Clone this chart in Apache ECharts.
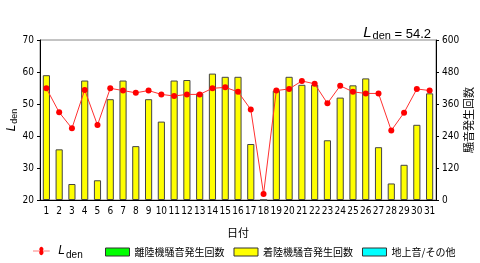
<!DOCTYPE html>
<html>
<head>
<meta charset="utf-8">
<script src="https://cdn.jsdelivr.net/npm/echarts@6/dist/echarts.min.js"></script>
<style>
  html, body { margin: 0; padding: 0; background: #fff; }
  #chart { width: 480px; height: 263px; }
</style>
</head>
<body>
<div id="chart"></div>
<script>
var days = ['1','2','3','4','5','6','7','8','9','10','11','12','13','14','15','16','17','18','19','20','21','22','23','24','25','26','27','28','29','30','31']
// 着陸機騒音発生回数
var landing = [468, 190, 60, 448, 74, 378, 448, 202, 378, 294, 448, 450, 400, 474, 462, 462, 210, 0, 410, 462, 432, 432, 224, 384, 430, 456, 198, 62, 132, 282, 400]
// 離陸機 / 地上音 : no data this month
var takeoff = []
var ground = []
// Lden daily
var lden = [54.9, 47.4, 42.4, 54.4, 43.4, 54.9, 54.2, 53.5, 54.2, 53.0, 52.5, 53.0, 53.0, 54.9, 55.2, 53.8, 48.3, 21.9, 54.2, 54.7, 57.2, 56.3, 50.2, 55.7, 53.8, 53.3, 53.3, 41.7, 47.3, 54.7, 54.2]
var ldenMonth = '54.2'

var font = '"Noto Sans CJK JP", "DejaVu Sans", sans-serif'
var richL = {
  l: { fontSize: 12, fontStyle: 'italic', color: '#000', fontFamily: 'Liberation Sans' },
  s: { fontSize: 10, color: '#000', padding: [8, 0, 0, 1], fontFamily: 'Liberation Sans' }
}
var chart = echarts.init(document.getElementById('chart'))
var option = {
  animation: false,
  textStyle: { fontFamily: font },
  title: {
    text: '{l|L}{s|den}{v| = ' + ldenMonth + '}',
    right: 44,
    top: 19,
    textStyle: {
      fontWeight: 'normal',
      rich: {
        l: { fontSize: 15, fontStyle: 'italic', color: '#000', fontFamily: 'Liberation Sans' },
        s: { fontSize: 11, color: '#000', padding: [6, 0, 0, 1], fontFamily: 'Liberation Sans' },
        v: { fontSize: 13, color: '#000', padding: [4, 0, 0, 0], fontFamily: 'Liberation Sans' }
      }
    }
  },
  grid: {
    left: 40, right: 44, top: 40, bottom: 63,
    outerBoundsMode: 'none',
    containLabel: false,
    show: true, borderColor: '#888', borderWidth: 1
  },
  legend: [
    {
      left: 28,
      top: 240,
      itemWidth: 24,
      itemHeight: 8,
      textStyle: { fontSize: 11, color: '#000', rich: richL },
      formatter: function () { return '{l|L}{s|den}' },
      data: [
        { name: 'Lden', icon: 'path://M0,4H10A3,3 0 1,1 14,4A3,3 0 1,1 10,4H24V5H14A3,3 0 1,1 10,5H0Z' }
      ]
    },
    {
      left: 100,
      top: 242,
      itemWidth: 24,
      itemHeight: 8,
      itemGap: 9,
      textStyle: { fontSize: 10, color: '#000', fontFamily: font },
      data: [
        { name: '離陸機騒音発生回数', icon: 'rect', itemStyle: { borderColor: '#333', borderWidth: 1 } },
        { name: '着陸機騒音発生回数', icon: 'rect', itemStyle: { borderColor: '#333', borderWidth: 1 } },
        { name: '地上音/その他', icon: 'rect', itemStyle: { borderColor: '#333', borderWidth: 1 } }
      ]
    }
  ],
  xAxis: {
    type: 'category',
    data: days,
    name: '日付',
    nameLocation: 'middle',
    nameGap: 27,
    nameTextStyle: { fontSize: 11, color: '#000' },
    axisLine: { lineStyle: { color: '#000' } },
    axisTick: { length: 3, lineStyle: { color: '#000' } },
    axisLabel: { fontSize: 10, color: '#000', margin: 6, interval: 0, fontFamily: 'DejaVu Sans Condensed' }
  },
  yAxis: [
    {
      type: 'value',
      min: 20, max: 70, interval: 10,
      name: '{l|L}{s|den}',
      nameLocation: 'middle',
      nameGap: 21,
      nameMoveOverlap: false,
      nameRotate: 90,
      nameTextStyle: {
        rich: {
          l: { fontSize: 12, fontStyle: 'italic', color: '#000', fontFamily: 'Liberation Sans' },
          s: { fontSize: 9, color: '#000', padding: [6, 0, 0, 1], fontFamily: 'Liberation Sans' }
        }
      },
      splitLine: { show: false },
      axisLine: { show: true, lineStyle: { color: '#000' } },
      axisTick: { show: true, length: 3, lineStyle: { color: '#000' } },
      axisLabel: { fontSize: 10, color: '#000', margin: 6, fontFamily: 'DejaVu Sans Condensed' }
    },
    {
      type: 'value',
      min: 0, max: 600, interval: 120,
      position: 'right',
      name: '騒音発生回数',
      nameLocation: 'middle',
      nameGap: 27,
      nameMoveOverlap: false,
      nameRotate: 90,
      nameTextStyle: { fontSize: 11, color: '#000' },
      splitLine: { show: false },
      axisLine: { show: true, lineStyle: { color: '#000' } },
      axisTick: { show: true, length: 3, lineStyle: { color: '#000' } },
      axisLabel: { fontSize: 10, color: '#000', margin: 6, fontFamily: 'DejaVu Sans Condensed' }
    }
  ],
  series: [
    {
      name: 'Lden',
      type: 'line',
      yAxisIndex: 0,
      data: lden,
      symbol: 'circle',
      symbolSize: 6,
      z: 5,
      itemStyle: { color: '#ff0000' },
      lineStyle: { color: '#ff3030', width: 1 }
    },
    {
      name: '離陸機騒音発生回数',
      type: 'bar',
      yAxisIndex: 1,
      stack: 'n',
      data: takeoff,
      itemStyle: { color: '#00ff00', borderColor: '#333', borderWidth: 1 }
    },
    {
      name: '着陸機騒音発生回数',
      type: 'bar',
      yAxisIndex: 1,
      stack: 'n',
      barWidth: '56%',
      data: landing,
      itemStyle: { color: '#ffff00', borderColor: '#444', borderWidth: 1 }
    },
    {
      name: '地上音/その他',
      type: 'bar',
      yAxisIndex: 1,
      stack: 'n',
      data: ground,
      itemStyle: { color: '#00ffff', borderColor: '#333', borderWidth: 1 }
    }
  ]
}
chart.setOption(option)
</script>
</body>
</html>
